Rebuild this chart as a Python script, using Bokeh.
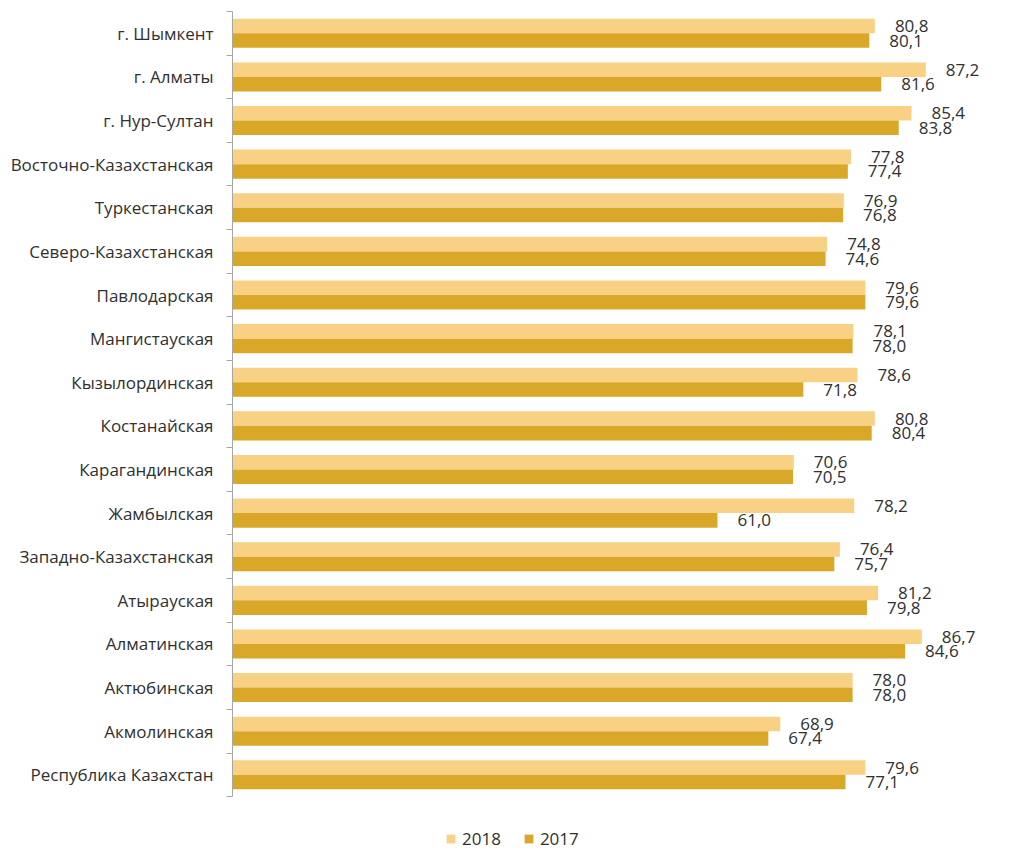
import numpy as np
from bokeh.plotting import figure
from bokeh.models import Range1d, FixedTicker, Legend, LegendItem, ColumnDataSource
from bokeh.core.properties import value
from bokeh.embed import file_html
from bokeh.resources import INLINE

categories = ["г. Шымкент", "г. Алматы", "г. Нур-Султан", "Восточно-Казахстанская",
              "Туркестанская", "Северо-Казахстанская", "Павлодарская", "Мангистауская",
              "Кызылординская", "Костанайская", "Карагандинская", "Жамбылская",
              "Западно-Казахстанская", "Атырауская", "Алматинская", "Актюбинская",
              "Акмолинская", "Республика Казахстан"]
v2018 = [80.8, 87.2, 85.4, 77.8, 76.9, 74.8, 79.6, 78.1, 78.6, 80.8, 70.6, 78.2,
         76.4, 81.2, 86.7, 78.0, 68.9, 79.6]
v2017 = [80.1, 81.6, 83.8, 77.4, 76.8, 74.6, 79.6, 78.0, 71.8, 80.4, 70.5, 61.0,
         75.7, 79.8, 84.6, 78.0, 67.4, 77.1]
series_names = ["2018", "2017"]

C18 = "#F9D185"
C17 = "#DAA828"
TXT = "#303030"
FONT = "Open Sans"
FS = "17px"

n = len(categories)
centers = (np.arange(n)[::-1] + 0.5).astype(float)

src = ColumnDataSource(dict(
    y18=centers + 1/6, y17=centers - 1/6,
    v18=v2018, v17=v2017,
    t18=[f"{v:.1f}".replace(".", ",") for v in v2018],
    t17=[f"{v:.1f}".replace(".", ",") for v in v2017],
))

p = figure(width=1000, height=850, output_backend="svg", toolbar_location=None,
           x_range=Range1d(0, 96.6), y_range=Range1d(-1.235, n),
           x_axis_location=None, min_border_left=232, min_border_right=0,
           min_border_top=11, min_border_bottom=0)
p.outline_line_color = None
p.grid.visible = False

r18 = p.hbar(y="y18", right="v18", left=0, height=1/3, source=src, fill_color=C18, line_color=None)
r17 = p.hbar(y="y17", right="v17", left=0, height=1/3, source=src, fill_color=C17, line_color=None)

for col_y, col_x, col_t in (("y18", "v18", "t18"), ("y17", "v17", "t17")):
    p.text(x=col_x, y=col_y, text=col_t, source=src, x_offset=20,
           text_baseline="middle", text_align="left", text_color=TXT,
           text_font=value(FONT), text_font_size=FS)

ax = p.yaxis[0]
ax.bounds = (0, n)
ax.ticker = FixedTicker(ticks=list(centers), minor_ticks=list(np.arange(n + 1, dtype=float)))
ax.major_label_overrides = {float(c): name for c, name in zip(centers, categories)}
ax.major_tick_in = 0
ax.major_tick_out = 0
ax.minor_tick_in = 0
ax.minor_tick_out = 6
ax.axis_line_color = "#A6A6A6"
ax.minor_tick_line_color = "#A6A6A6"
ax.major_label_standoff = 13
ax.major_label_text_font = FONT
ax.major_label_text_font_size = FS
ax.major_label_text_color = TXT

legend = Legend(items=[LegendItem(label=series_names[0], renderers=[r18]),
                       LegendItem(label=series_names[1], renderers=[r17])],
                orientation="horizontal", location=(213, 0),
                glyph_width=11, glyph_height=11, label_text_font=FONT,
                label_text_font_size=FS, label_text_color=TXT,
                border_line_color=None, background_fill_alpha=0,
                spacing=22, padding=0, margin=0, label_standoff=6)
p.add_layout(legend, "center")

open("out.html", "w").write(file_html(p, INLINE))
